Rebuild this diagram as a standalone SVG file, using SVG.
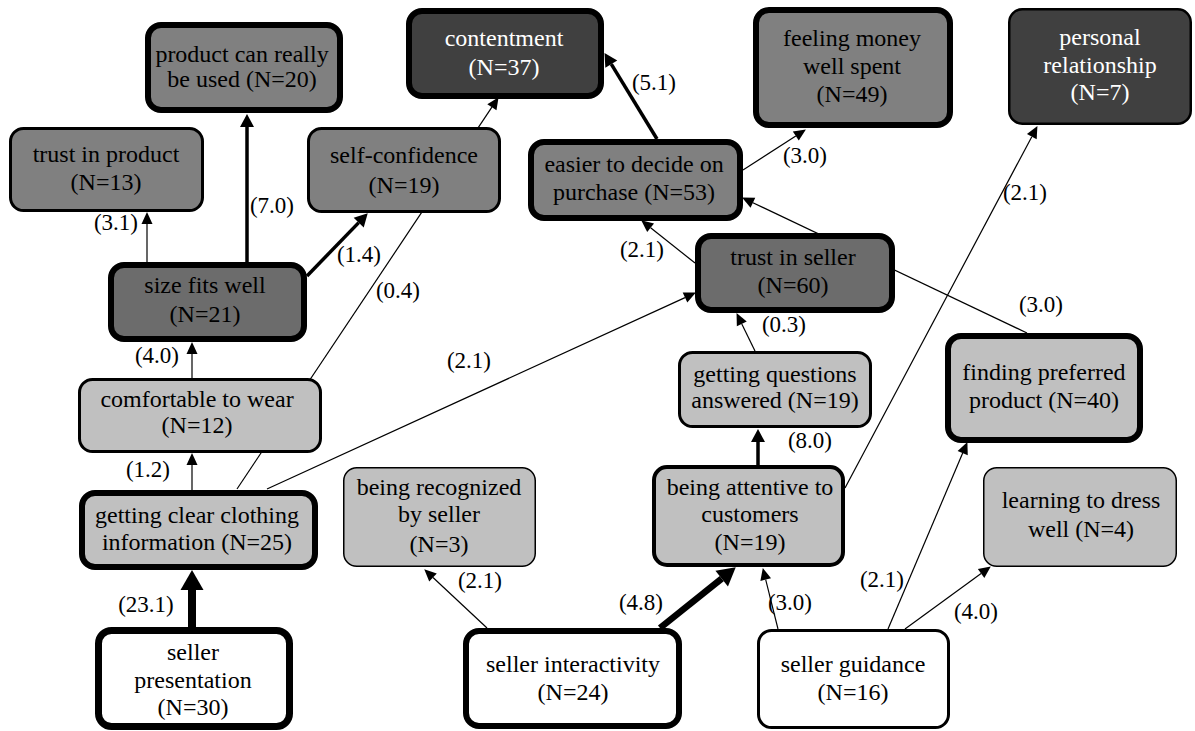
<svg xmlns="http://www.w3.org/2000/svg" width="1195" height="731" viewBox="0 0 1195 731" font-family="Liberation Serif, DejaVu Serif, serif">
<style>
text{font-family:Liberation Serif,DejaVu Serif,serif;font-size:24px;text-anchor:middle;fill:#000}
.lbl{font-size:23px}
.node rect{stroke:#000}
.lt{fill:#c0c0c0}
.md{fill:#808080}
.dk{fill:#6c6c6c}
.vd{fill:#404040}
.wh{fill:#fff}
.wt{fill:#fff}
.e{stroke:#000;fill:none}
.e1{stroke-width:1.2;marker-end:url(#a1)}
.e3{stroke-width:3.5;marker-end:url(#a3)}
.e6{stroke-width:6.5;marker-end:url(#a6)}
.e8{stroke-width:8;marker-end:url(#a8)}
</style>
<defs>
<marker id="a1" markerUnits="userSpaceOnUse" orient="auto" refX="0" refY="0" markerWidth="14" markerHeight="12" overflow="visible"><path d="M0,-5.5 L12,0 L0,5.5 z" fill="#000"/></marker>
<marker id="a3" markerUnits="userSpaceOnUse" orient="auto" refX="0" refY="0" markerWidth="14" markerHeight="14" overflow="visible"><path d="M0,-7 L13,0 L0,7 z" fill="#000"/></marker>
<marker id="a6" markerUnits="userSpaceOnUse" orient="auto" refX="0" refY="0" markerWidth="18" markerHeight="20" overflow="visible"><path d="M0,-10 L18,0 L0,10 z" fill="#000"/></marker>
<marker id="a8" markerUnits="userSpaceOnUse" orient="auto" refX="0" refY="0" markerWidth="20" markerHeight="24" overflow="visible"><path d="M0,-11.5 L20,0 L0,11.5 z" fill="#000"/></marker>
</defs>
<rect x="0" y="0" width="1195" height="731" fill="#fff"/>
<g id="connectors">
<line class="e e8" x1="192" y1="627" x2="192" y2="590"/>
<line class="e e1" x1="192" y1="490" x2="192" y2="465"/>
<line class="e e1" x1="192" y1="378" x2="192" y2="354"/>
<line class="e e1" x1="147" y1="262" x2="147" y2="224"/>
<line class="e e3" x1="247" y1="262" x2="247" y2="127"/>
<line class="e e3" x1="307" y1="276" x2="358.7" y2="222.6"/>
<line class="e e1" x1="237" y1="489" x2="491.9" y2="107.2"/>
<line class="e e1" x1="267" y1="489" x2="685" y2="297.6"/>
<line class="e e1" x1="695" y1="263" x2="650.6" y2="227.8"/>
<line class="e e1" x1="1027" y1="333" x2="752.9" y2="202.7"/>
<line class="e e3" x1="657" y1="139" x2="611.3" y2="64.2"/>
<line class="e e1" x1="743" y1="170" x2="795.8" y2="136"/>
<line class="e e1" x1="755" y1="351" x2="741.8" y2="323.9"/>
<line class="e e3" x1="758" y1="465" x2="758" y2="442"/>
<line class="e e1" x1="845" y1="488" x2="1031.8" y2="136.7"/>
<line class="e e1" x1="487" y1="628" x2="433" y2="577.5"/>
<line class="e e6" x1="660" y1="628" x2="721.7" y2="578.6"/>
<line class="e e1" x1="778" y1="629" x2="765.7" y2="579.7"/>
<line class="e e1" x1="888" y1="629" x2="962.7" y2="453.1"/>
<line class="e e1" x1="905" y1="629" x2="981.1" y2="573.5"/>
<text class="lbl" x="146" y="612">(23.1)</text>
<text class="lbl" x="148" y="477">(1.2)</text>
<text class="lbl" x="157" y="363">(4.0)</text>
<text class="lbl" x="116" y="230">(3.1)</text>
<text class="lbl" x="272" y="213">(7.0)</text>
<text class="lbl" x="359" y="262">(1.4)</text>
<text class="lbl" x="398" y="298">(0.4)</text>
<text class="lbl" x="469" y="368">(2.1)</text>
<text class="lbl" x="642" y="257">(2.1)</text>
<text class="lbl" x="1041" y="312">(3.0)</text>
<text class="lbl" x="654" y="90">(5.1)</text>
<text class="lbl" x="805" y="163">(3.0)</text>
<text class="lbl" x="784" y="332">(0.3)</text>
<text class="lbl" x="810" y="448">(8.0)</text>
<text class="lbl" x="1025" y="200">(2.1)</text>
<text class="lbl" x="480" y="588">(2.1)</text>
<text class="lbl" x="641" y="610">(4.8)</text>
<text class="lbl" x="790" y="610">(3.0)</text>
<text class="lbl" x="882" y="587">(2.1)</text>
<text class="lbl" x="976" y="619">(4.0)</text>
</g>
<g id="product-used" class="node"><rect class="md" x="148" y="25" width="192" height="85" rx="13" stroke-width="6"/><text x="242" y="62">product can really</text><text x="242" y="87">be used (N=20)</text></g>
<g id="trust-product" class="node"><rect class="md" x="10.5" y="128.5" width="192" height="82" rx="13" stroke-width="3"/><text x="106" y="162">trust in product</text><text x="106" y="190">(N=13)</text></g>
<g id="self-confidence" class="node"><rect class="md" x="308.5" y="128.5" width="191" height="83" rx="13" stroke-width="3"/><text x="404" y="163">self-confidence</text><text x="404" y="193">(N=19)</text></g>
<g id="contentment" class="node"><rect class="vd" x="409" y="11" width="192" height="85" rx="13" stroke-width="6"/><text class="wt" x="504" y="46">contentment</text><text class="wt" x="504" y="75">(N=37)</text></g>
<g id="easier-decide" class="node"><rect class="md" x="531" y="142" width="209" height="76" rx="13" stroke-width="6"/><text x="634" y="172">easier to decide on</text><text x="634" y="200">purchase (N=53)</text></g>
<g id="money-well-spent" class="node"><rect class="md" x="756" y="10" width="194" height="115" rx="13" stroke-width="6"/><text x="852" y="46">feeling money</text><text x="852" y="74">well spent</text><text x="852" y="102">(N=49)</text></g>
<g id="personal-relationship" class="node"><rect class="vd" x="1009.25" y="9.25" width="181.5" height="114.5" rx="13" stroke-width="2.5"/><text class="wt" x="1100" y="45">personal</text><text class="wt" x="1100" y="73">relationship</text><text class="wt" x="1100" y="100">(N=7)</text></g>
<g id="size-fits" class="node"><rect class="dk" x="111" y="265" width="193" height="74" rx="13" stroke-width="6"/><text x="205" y="293">size fits well</text><text x="205" y="322">(N=21)</text></g>
<g id="trust-seller" class="node"><rect class="dk" x="698" y="236" width="194" height="74" rx="13" stroke-width="6"/><text x="793" y="265">trust in seller</text><text x="793" y="293">(N=60)</text></g>
<g id="comfortable" class="node"><rect class="lt" x="79.5" y="379.5" width="241" height="72" rx="13" stroke-width="3"/><text x="197" y="407">comfortable to wear</text><text x="197" y="433">(N=12)</text></g>
<g id="questions-answered" class="node"><rect class="lt" x="679.5" y="352.5" width="191" height="74" rx="13" stroke-width="3"/><text x="775" y="382">getting questions</text><text x="775" y="408">answered (N=19)</text></g>
<g id="preferred-product" class="node"><rect class="lt" x="948" y="336" width="192" height="104" rx="13" stroke-width="6"/><text x="1044" y="380">finding preferred</text><text x="1044" y="408">product (N=40)</text></g>
<g id="clothing-info" class="node"><rect class="lt" x="82" y="493" width="233" height="74" rx="13" stroke-width="6"/><text x="197" y="523">getting clear clothing</text><text x="197" y="550">information (N=25)</text></g>
<g id="recognized" class="node"><rect class="lt" x="343.75" y="467.75" width="191.5" height="98.5" rx="13" stroke-width="1.5"/><text x="439" y="495">being recognized</text><text x="439" y="522">by seller</text><text x="439" y="552">(N=3)</text></g>
<g id="attentive" class="node"><rect class="lt" x="654" y="467" width="189" height="98" rx="13" stroke-width="4"/><text x="750" y="495">being attentive to</text><text x="750" y="522">customers</text><text x="750" y="550">(N=19)</text></g>
<g id="dress-well" class="node"><rect class="lt" x="983.75" y="467.75" width="192.5" height="98.5" rx="13" stroke-width="1.5"/><text x="1081" y="508">learning to dress</text><text x="1081" y="537">well (N=4)</text></g>
<g id="seller-presentation" class="node"><rect class="wh" x="98.5" y="630.5" width="191" height="96" rx="13" stroke-width="7"/><text x="193" y="660">seller</text><text x="193" y="688">presentation</text><text x="193" y="715">(N=30)</text></g>
<g id="seller-interactivity" class="node"><rect class="wh" x="466" y="631" width="213" height="95" rx="13" stroke-width="6"/><text x="573" y="672">seller interactivity</text><text x="573" y="700">(N=24)</text></g>
<g id="seller-guidance" class="node"><rect class="wh" x="758.5" y="630.5" width="190" height="97" rx="13" stroke-width="3"/><text x="853" y="672">seller guidance</text><text x="853" y="700">(N=16)</text></g>
</svg>
